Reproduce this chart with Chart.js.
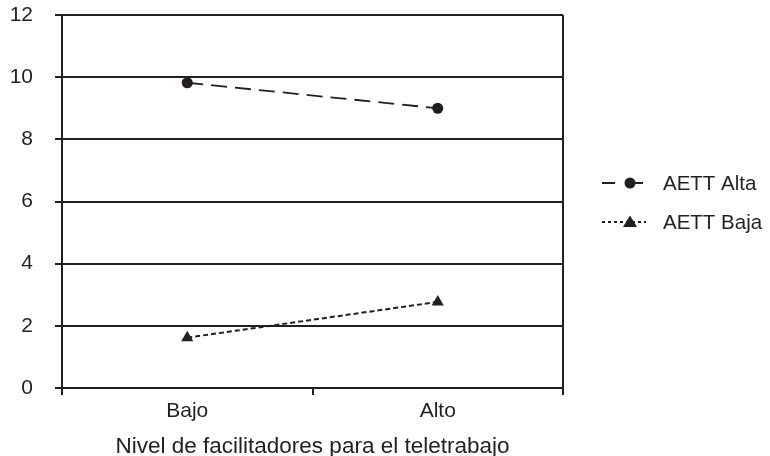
<!DOCTYPE html>
<html>
<head>
<meta charset="utf-8">
<title>Nivel de facilitadores para el teletrabajo</title>
<script src="https://cdn.jsdelivr.net/npm/chart.js"></script>
<style>
body { margin: 0; background: #fff; }
#wrap { width: 770px; height: 456px; position: relative; }
</style>
</head>
<body>
<div id="wrap"><canvas id="c"></canvas></div>
<script>
// Datos
const categorias = ['Bajo', 'Alto'];
const aettAlta = [9.82, 9.0];
const aettBaja = [1.62, 2.77];
const ticksY = [0, 2, 4, 6, 8, 10, 12];

const tinta = '#231f20';
const fuente = '"Liberation Sans", Arial, sans-serif';

// Leyenda dibujada a mano (línea + marcador)
const leyenda = {
  id: 'leyenda',
  afterDraw(chart) {
    const ctx = chart.ctx;
    const items = [
      { txt: 'AETT Alta', y: 183, dash: [13, 15], forma: 'circle' },
      { txt: 'AETT Baja', y: 222, dash: [3, 3], forma: 'triangle' }
    ];
    ctx.save();
    items.forEach(it => {
      ctx.strokeStyle = tinta;
      ctx.lineWidth = 2;
      ctx.setLineDash(it.dash);
      ctx.beginPath();
      ctx.moveTo(602, it.y);
      ctx.lineTo(646, it.y);
      ctx.stroke();
      ctx.setLineDash([]);
      ctx.fillStyle = tinta;
      ctx.beginPath();
      if (it.forma === 'circle') {
        ctx.arc(630, it.y, 5.5, 0, Math.PI * 2);
      } else {
        ctx.moveTo(630, it.y - 6.5);
        ctx.lineTo(637, it.y + 5);
        ctx.lineTo(623, it.y + 5);
        ctx.closePath();
      }
      ctx.fill();
      ctx.font = '20.5px ' + fuente;
      ctx.textBaseline = 'middle';
      ctx.fillText(it.txt, 663, it.y + 1);
    });
    ctx.restore();
  }
};

new Chart(document.getElementById('c'), {
  type: 'line',
  data: {
    labels: categorias,
    datasets: [
      {
        label: 'AETT Alta',
        data: aettAlta,
        borderColor: tinta,
        backgroundColor: tinta,
        borderWidth: 1.8,
        borderDash: [16, 8],
        pointStyle: 'circle',
        pointRadius: 5.5,
        pointBorderWidth: 0
      },
      {
        label: 'AETT Baja',
        data: aettBaja,
        borderColor: tinta,
        backgroundColor: tinta,
        borderWidth: 2,
        borderDash: [5, 3],
        pointStyle: 'triangle',
        pointRadius: 7,
        pointBorderWidth: 0
      }
    ]
  },
  options: {
    responsive: true,
    maintainAspectRatio: false,
    animation: false,
    layout: { padding: { left: 0, right: 207, top: 15, bottom: 0 } },
    plugins: { legend: { display: false }, tooltip: { enabled: false } },
    scales: {
      x: {
        type: 'category',
        offset: true,
        grid: {
          offset: true,
          color: ctx => ctx.index === 1 ? 'rgba(0,0,0,0)' : tinta,
          tickColor: tinta,
          lineWidth: 2,
          tickLength: 7
        },
        border: { color: tinta, width: 2 },
        ticks: { color: tinta, font: { family: fuente, size: 21 }, padding: 4 },
        title: {
          display: true,
          text: 'Nivel de facilitadores para el teletrabajo',
          color: tinta,
          font: { family: fuente, size: 22.5 },
          padding: { top: 4, bottom: -4 }
        },
        afterFit: s => {
          s.height = 68;
          s.paddingLeft = 0;
          s.paddingRight = 0;
        }
      },
      y: {
        min: 0,
        max: 12,
        afterBuildTicks: s => { s.ticks = ticksY.map(v => ({ value: v })); },
        grid: { color: tinta, lineWidth: 2, tickLength: 7 },
        border: { color: tinta, width: 2 },
        ticks: { color: tinta, font: { family: fuente, size: 21 }, padding: 22 },
        afterFit: s => {
          s.width = 62;
          s.paddingTop = 0;
          s.paddingBottom = 0;
        }
      }
    }
  },
  plugins: [leyenda]
});
</script>
</body>
</html>
